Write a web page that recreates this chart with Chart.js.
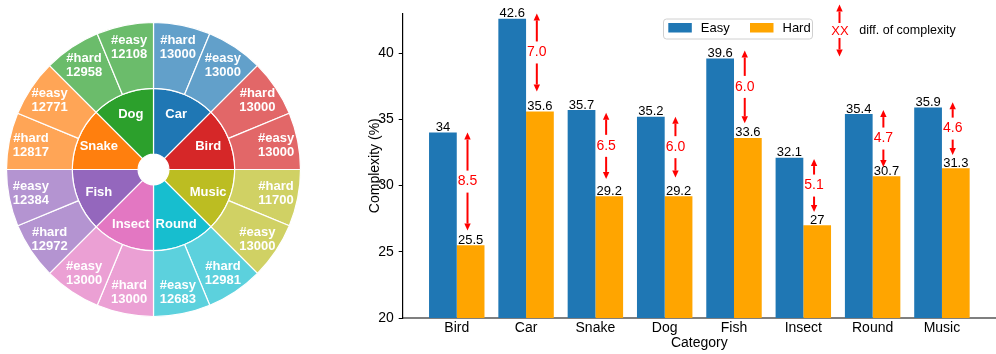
<!DOCTYPE html>
<html>
<head>
<meta charset="utf-8">
<script src="https://cdn.jsdelivr.net/npm/chart.js@4.4.1/dist/chart.umd.min.js"></script>
<style>
  html, body { margin: 0; padding: 0; background: #fff; }
  #wrap { position: relative; width: 996px; height: 354px; }
  #pieChart { position: absolute; left: 0; top: 0; }
  #barChart { position: absolute; left: 310px; top: 0; }
</style>
</head>
<body>
<div id="wrap">
  <canvas id="pieChart" width="310" height="354"></canvas>
  <canvas id="barChart" width="686" height="354"></canvas>
</div>
<script>
// sunburst (left), clockwise from the top
const pieCategories = ['Car', 'Bird', 'Music', 'Round', 'Insect', 'Fish', 'Snake', 'Dog'];
const pieColors = [[31, 119, 180], [214, 39, 40], [188, 189, 34], [23, 190, 207],
                   [227, 119, 194], [148, 103, 189], [255, 127, 14], [44, 160, 44]];
const hardCounts = [13000, 13000, 11700, 12981, 13000, 12972, 12817, 12958];
const easyCounts = [13000, 13000, 13000, 12683, 13000, 12384, 12771, 12108];

// bar chart (right)
const barCategories = ['Bird', 'Car', 'Snake', 'Dog', 'Fish', 'Insect', 'Round', 'Music'];
const easyValues = [34, 42.6, 35.7, 35.2, 39.6, 32.1, 35.4, 35.9];
const hardValues = [25.5, 35.6, 29.2, 29.2, 33.6, 27, 30.7, 31.3];
const diffLabels = ['8.5', '7.0', '6.5', '6.0', '6.0', '5.1', '4.7', '4.6'];
const arrowTop = [34.0, 43.0, 35.5, 35.2, 40.2, 32.0, 35.7, 36.3];
const arrowBottom = [26.6, 37.1, 30.5, 30.6, 34.7, 28.0, 31.4, 32.3];
const yTicks = [20, 25, 30, 35, 40];

const FONT = '"Liberation Sans", Arial, sans-serif';
Chart.defaults.font.family = FONT;
Chart.defaults.color = '#000';

const rgba = (c, a) => `rgba(${c[0]}, ${c[1]}, ${c[2]}, ${a})`;

// ---------- sunburst ----------
const outerColors = [], outerText = [];
pieCategories.forEach((name, i) => {
    outerColors.push(rgba(pieColors[i], 0.7), rgba(pieColors[i], 0.7));
    outerText.push(['#hard', String(hardCounts[i])], ['#easy', String(easyCounts[i])]);
});
const innerText = pieCategories.map(n => [n]);
const ringText = [outerText, innerText];

const sunburstLabels = {
    id: 'sunburstLabels',
    afterDatasetsDraw(chart) {
        const ctx = chart.ctx;
        ctx.save();
        ctx.fillStyle = '#fff';
        ctx.textAlign = 'center';
        ctx.textBaseline = 'middle';
        ctx.font = 'bold 13px ' + FONT;
        chart.data.datasets.forEach((ds, di) => {
            chart.getDatasetMeta(di).data.forEach((arc, i) => {
                const p = arc.getProps(['x', 'y', 'startAngle', 'endAngle', 'innerRadius', 'outerRadius'], true);
                const mid = (p.startAngle + p.endAngle) / 2;
                const r = p.innerRadius + 0.665 * (p.outerRadius - p.innerRadius);
                const cx = p.x + r * Math.cos(mid);
                const cy = p.y + r * Math.sin(mid);
                const lines = ringText[di][i];
                lines.forEach((t, k) => {
                    ctx.fillText(t, cx, cy + (k - (lines.length - 1) / 2) * 14);
                });
            });
        });
        ctx.restore();
    }
};

new Chart(document.getElementById('pieChart'), {
    type: 'doughnut',
    data: {
        labels: outerText.map(t => t.join(' ')),
        datasets: [
            {
                data: outerText.map(() => 1),
                backgroundColor: outerColors,
                borderColor: '#fff',
                borderWidth: 1.2
            },
            {
                data: pieCategories.map(() => 1),
                backgroundColor: pieColors.map(c => rgba(c, 1)),
                borderColor: '#fff',
                borderWidth: 1.2
            }
        ]
    },
    options: {
        responsive: false,
        animation: false,
        events: [],
        cutout: '10.5%',
        radius: 147,
        layout: { padding: { left: 3.5, right: 6.5, top: 19.5, bottom: 34.5 } },
        plugins: { legend: { display: false }, tooltip: { enabled: false } }
    },
    plugins: [sunburstLabels]
});

// ---------- bars ----------
function drawArrow(ctx, x, yFrom, yTo) {
    const dir = Math.sign(yTo - yFrom);
    const head = 7, half = 3.2;
    ctx.beginPath();
    ctx.moveTo(x, yFrom);
    ctx.lineTo(x, yTo - dir * head);
    ctx.stroke();
    ctx.beginPath();
    ctx.moveTo(x, yTo);
    ctx.lineTo(x - half, yTo - dir * head);
    ctx.lineTo(x + half, yTo - dir * head);
    ctx.closePath();
    ctx.fill();
}

const barAnnotations = {
    id: 'barAnnotations',
    afterDatasetsDraw(chart) {
        const ctx = chart.ctx;
        const xs = chart.scales.x, ys = chart.scales.y;
        ctx.save();

        // value on top of each bar
        ctx.font = '13px ' + FONT;
        ctx.fillStyle = '#000';
        ctx.textAlign = 'center';
        ctx.textBaseline = 'alphabetic';
        chart.data.datasets.forEach((ds, di) => {
            chart.getDatasetMeta(di).data.forEach((bar, i) => {
                ctx.fillText(String(ds.data[i].y), bar.x, bar.y - 1.5);
            });
        });

        // red difference arrows
        ctx.strokeStyle = 'red';
        ctx.fillStyle = 'red';
        ctx.lineWidth = 2;
        ctx.font = '14px ' + FONT;
        ctx.textBaseline = 'middle';
        barCategories.forEach((c, i) => {
            const x = xs.getPixelForValue(i + 0.155);
            const yT = ys.getPixelForValue(arrowTop[i]);
            const yB = ys.getPixelForValue(arrowBottom[i]);
            const yM = (yT + yB) / 2;
            drawArrow(ctx, x, yM - 11, yT);
            drawArrow(ctx, x, yM + 11, yB);
            ctx.fillText(diffLabels[i], x, yM);
        });
        ctx.restore();
    },
    afterDraw(chart) {
        const ctx = chart.ctx;
        ctx.save();
        // legend box
        const bx = 353.5, by = 19, bw = 149, bh = 20;
        ctx.fillStyle = '#fff';
        ctx.strokeStyle = '#d0d0d0';
        ctx.lineWidth = 1;
        ctx.beginPath();
        ctx.roundRect(bx, by, bw, bh, 3);
        ctx.fill();
        ctx.stroke();
        const entries = chart.data.datasets;
        const swX = [358.3, 440];
        ctx.font = '13px ' + FONT;
        ctx.textAlign = 'left';
        ctx.textBaseline = 'middle';
        entries.forEach((ds, k) => {
            ctx.fillStyle = ds.backgroundColor;
            ctx.fillRect(swX[k], 23, 23.5, 9.5);
            ctx.fillStyle = '#000';
            ctx.fillText(ds.label, swX[k] + 32.5, 28.5);
        });

        // "XX diff. of complexity" key
        ctx.strokeStyle = 'red';
        ctx.fillStyle = 'red';
        ctx.lineWidth = 2;
        const kx = 529.5, ky = 31;
        drawArrow(ctx, kx, ky - 8, 4.5);
        drawArrow(ctx, kx, ky + 7, 56.5);
        ctx.textAlign = 'center';
        ctx.fillText('XX', kx + 0.5, ky);
        ctx.fillStyle = '#000';
        ctx.textAlign = 'left';
        ctx.font = '12.5px ' + FONT;
        ctx.fillText('diff. of complexity', 549.3, ky);
        ctx.restore();
    }
};

new Chart(document.getElementById('barChart'), {
    type: 'bar',
    data: {
        datasets: [
            {
                label: 'Easy',
                data: easyValues.map((v, i) => ({ x: i, y: v })),
                backgroundColor: '#1f77b4'
            },
            {
                label: 'Hard',
                data: hardValues.map((v, i) => ({ x: i, y: v })),
                backgroundColor: '#ffa500'
            }
        ]
    },
    options: {
        responsive: false,
        animation: false,
        events: [],
        categoryPercentage: 0.8,
        barPercentage: 1.0,
        layout: { padding: { top: 10, left: 0, right: 0, bottom: 0 } },
        plugins: { legend: { display: false }, tooltip: { enabled: false } },
        scales: {
            x: {
                type: 'linear',
                offset: false,
                min: -0.78,
                max: 7.78,
                z: 1,
                afterBuildTicks: s => { s.ticks = barCategories.map((c, i) => ({ value: i })); },
                afterFit: s => { s.height = 36; },
                grid: { display: false, drawTicks: false },
                border: { display: true, color: 'rgba(0, 0, 0, 0.5)', width: 2 },
                ticks: {
                    padding: 2,
                    autoSkip: false,
                    maxRotation: 0,
                    font: { size: 14 },
                    callback: v => barCategories[v]
                },
                title: {
                    display: true,
                    text: 'Category',
                    font: { size: 14 },
                    padding: { top: 0, bottom: 2.3 }
                }
            },
            y: {
                min: 20,
                max: 43,
                afterBuildTicks: s => { s.ticks = yTicks.map(v => ({ value: v })); },
                afterFit: s => { s.width = 92.7; },
                grid: { drawOnChartArea: false, tickLength: 4, color: '#000' },
                border: { color: '#000', width: 1.2 },
                ticks: { padding: 5, font: { size: 14 } },
                title: {
                    display: true,
                    text: 'Complexity (%)',
                    font: { size: 14 },
                    padding: { top: 57, bottom: 0 }
                }
            }
        }
    },
    plugins: [barAnnotations]
});
</script>
</body>
</html>
